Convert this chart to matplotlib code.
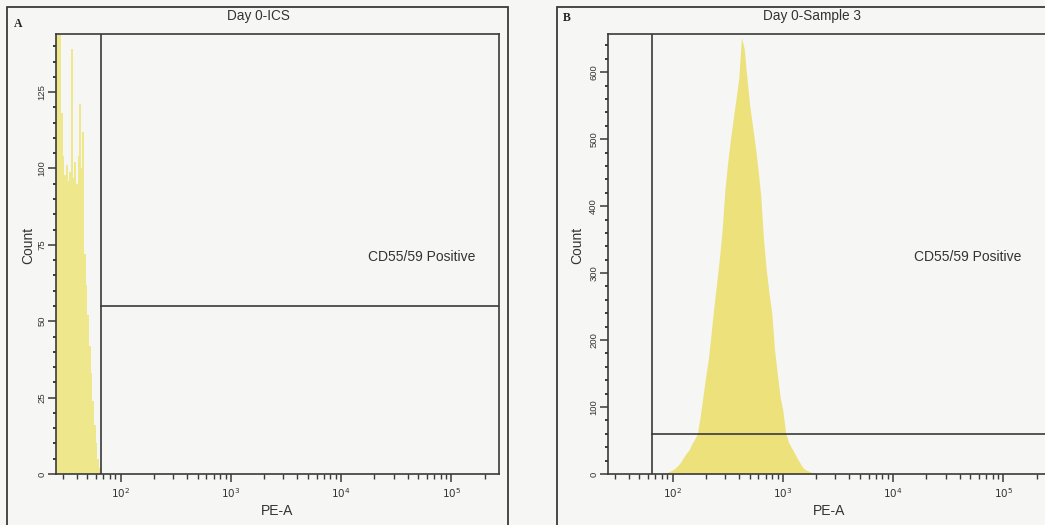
import numpy as np
import matplotlib
matplotlib.use("Agg")
import matplotlib.pyplot as plt
from matplotlib.patches import Rectangle
from matplotlib.ticker import LogLocator, MultipleLocator, NullFormatter, FixedLocator, FixedFormatter

plt.rcParams['font.family'] = ['Liberation Sans', 'DejaVu Sans']

# ---------------- data ----------------
titles = ["Day 0-ICS", "Day 0-Sample 3"]
panel_letters = ["A", "B"]
gate_label = "CD55/59 Positive"
x_label = "PE-A"
y_label = "Count"

# Panel A histogram: log10 bin start, bin width (decades), counts
a_log_start = 1.415
a_log_width = 0.015
a_counts = [165, 150, 145, 118, 104, 98, 101, 96, 99, 139, 97, 102, 95, 104,
            121, 100, 112, 72, 62, 52, 42, 33, 24, 16, 10, 5, 2]
a_ylim = 144
a_yticks = [0, 25, 50, 75, 100, 125]
a_gate_x = 66.5
a_gate_y = 55

# Panel B histogram (log10 centre of first bin, bin width, counts)
b_log_start = 1.90
b_log_width = 0.025
b_counts = [0, 1, 2, 4, 6, 9, 13, 18, 25, 31, 36, 45, 52, 60, 85,
            115, 145, 172, 210, 250, 285, 322, 365, 425, 465, 500, 530, 560, 590, 652,
            635, 590, 550, 520, 490, 455, 415, 350, 305, 270, 240, 185, 150, 115, 95,
            62, 48, 40, 33, 25, 18, 11, 7, 5, 3, 2, 1, 0]
b_ylim = 657
b_yticks = [0, 100, 200, 300, 400, 500, 600]
b_gate_x = 65
b_gate_y = 60

x_range = (26.0, 2.7e5)
x_major = [1e2, 1e3, 1e4, 1e5]
x_major_labels = [r"$10^2$", r"$10^3$", r"$10^4$", r"$10^5$"]

# ---------------- style ----------------
W, H = 1045, 525
bg = "#F6F6F5"
line_c = "#3A3A3A"
txt_c = "#333333"
fill_a = "#EEE78C"
fill_b = "#EDE17C"

fig = plt.figure(figsize=(W / 100, H / 100), dpi=100, facecolor=bg)

def px_rect(l, t, w, h):
    return [l / W, 1 - (t + h) / H, w / W, h / H]

axA = fig.add_axes(px_rect(56, 34, 443, 440))
axB = fig.add_axes(px_rect(608, 34, 443, 440))

# outer frames
fig.add_artist(Rectangle((7 / W, -0.05), (508 - 7) / W, 1 - 7 / H + 0.05,
                         transform=fig.transFigure, fill=False, lw=1.3, ec=line_c))
fig.add_artist(Rectangle((557 / W, -0.05), 0.6, 1 - 7 / H + 0.05,
                         transform=fig.transFigure, fill=False, lw=1.3, ec=line_c))

# histograms
edges_a = 10 ** (a_log_start + a_log_width * np.arange(len(a_counts) + 1))
axA.stairs(a_counts, edges_a, fill=True, color=fill_a, lw=0, zorder=1)
centers_b = 10 ** (b_log_start + b_log_width * np.arange(len(b_counts)))
axB.fill_between(centers_b, 0, b_counts, color=fill_b, lw=0, zorder=1)

panels = [
    (axA, a_ylim, a_yticks, 5, a_gate_x, a_gate_y),
    (axB, b_ylim, b_yticks, 20, b_gate_x, b_gate_y),
]

for ax, ylim, yticks, yminor, gx, gy in panels:
    ax.set_facecolor(bg)
    ax.set_xscale("log")
    ax.set_xlim(*x_range)
    ax.set_ylim(0, ylim)
    # gate lines
    ax.axvline(gx, color=line_c, lw=1.2, zorder=3)
    ax.plot([gx, x_range[1]], [gy, gy], color=line_c, lw=1.2, zorder=3)
    for s in ax.spines.values():
        s.set_color(line_c)
        s.set_linewidth(1.2)
    ax.xaxis.set_major_locator(FixedLocator(x_major))
    ax.xaxis.set_major_formatter(FixedFormatter(x_major_labels))
    ax.xaxis.set_minor_locator(LogLocator(base=10, subs=np.arange(2, 10), numticks=20))
    ax.xaxis.set_minor_formatter(NullFormatter())
    ax.yaxis.set_major_locator(FixedLocator(yticks))
    ax.yaxis.set_minor_locator(MultipleLocator(yminor))
    ax.tick_params(axis="x", which="major", direction="out", length=6, width=1.1,
                   color=line_c, labelsize=7.5, labelcolor=txt_c, pad=2.5)
    ax.tick_params(axis="x", which="minor", direction="out", length=3.5, width=1.0, color=line_c)
    ax.tick_params(axis="y", which="major", direction="out", length=6, width=1.1,
                   color=line_c, labelsize=6.8, labelcolor=txt_c, pad=1, labelrotation=90)
    ax.tick_params(axis="y", which="minor", direction="out", length=2.5, width=1.4, color=line_c)
    for t in ax.get_yticklabels():
        t.set_va("center")

# texts (pixel positions converted to figure fraction)
def ftext(x, y, s, **kw):
    fig.text(x / W, 1 - y / H, s, **kw)

ftext(258, 16, titles[0], ha="center", va="center", fontsize=9.8, color=txt_c)
ftext(812, 16, titles[1], ha="center", va="center", fontsize=9.8, color=txt_c)
ftext(18, 24, panel_letters[0], ha="center", va="center", fontsize=8.5,
      family="Liberation Serif", weight="bold", color="#222222")
ftext(567, 18, panel_letters[1], ha="center", va="center", fontsize=8.5,
      family="Liberation Serif", weight="bold", color="#222222")
ftext(422, 257, gate_label, ha="center", va="center", fontsize=10, color=txt_c)
ftext(968, 257, gate_label, ha="center", va="center", fontsize=10, color=txt_c)
ftext(277, 511, x_label, ha="center", va="center", fontsize=10, color=txt_c)
ftext(829, 511, x_label, ha="center", va="center", fontsize=10, color=txt_c)
ftext(28, 245, y_label, ha="center", va="center", rotation=90, fontsize=10, color=txt_c)
ftext(577, 245, y_label, ha="center", va="center", rotation=90, fontsize=10, color=txt_c)

fig.savefig("out.png", dpi=100, facecolor=bg)
